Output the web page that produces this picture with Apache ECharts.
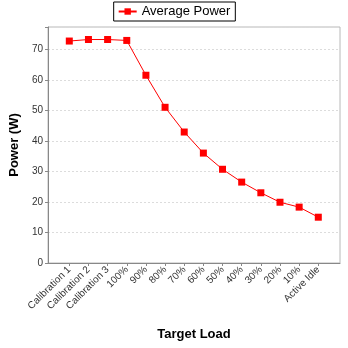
<!DOCTYPE html>
<html>
<head>
<meta charset="utf-8">
<script src="https://cdn.jsdelivr.net/npm/echarts@6/dist/echarts.min.js"></script>
<style>
  html, body { margin: 0; padding: 0; background: #fff; }
  #chart { width: 348px; height: 348px; }
</style>
</head>
<body>
<div id="chart"></div>
<script>
// Average power per target load level
const categories = ['Calibration 1', 'Calibration 2', 'Calibration 3', '100%', '90%', '80%', '70%',
  '60%', '50%', '40%', '30%', '20%', '10%', 'Active Idle'];
const averagePower = [72.7, 73.2, 73.2, 72.9, 61.5, 51.0, 42.9, 36.0, 30.7, 26.5, 23.0, 19.9, 18.3, 15.0];
const yTicks = [0, 10, 20, 30, 40, 50, 60, 70];

const FONT = 'Liberation Sans';
const Y_MAX = 77.3;

const chart = echarts.init(document.getElementById('chart'), null, { renderer: 'canvas' });

chart.setOption({
  backgroundColor: '#ffffff',
  animation: false,
  textStyle: { fontFamily: FONT },
  legend: {
    data: ['Average Power'],
    top: 2,
    left: 'center',
    borderColor: '#000',
    borderWidth: 1,
    padding: [3, 5, 3, 4],
    itemWidth: 18,
    itemHeight: 8,
    itemGap: 4,
    textStyle: { fontFamily: FONT, fontSize: 13, color: '#000' }
  },
  grid: [
    // outer plot frame
    { left: 48, right: 8, top: 27, bottom: 85, show: true, borderColor: '#b8b8b8', borderWidth: 1, containLabel: false },
    // data area, inset by category margins
    { left: 69.3, right: 29.7, top: 27, bottom: 85, containLabel: false }
  ],
  xAxis: [
    {
      gridIndex: 0, type: 'value', min: 0, max: 1,
      name: 'Target Load', nameLocation: 'middle', nameGap: 65,
      nameTextStyle: { fontFamily: FONT, fontSize: 13, fontWeight: 'bold', color: '#000' },
      axisLine: { show: true, lineStyle: { color: '#888', width: 1 } },
      axisTick: { show: false }, axisLabel: { show: false }, splitLine: { show: false }
    },
    {
      gridIndex: 1, type: 'category', data: categories, boundaryGap: false,
      axisLine: { show: false },
      axisTick: { show: true, length: 3, alignWithLabel: true, lineStyle: { color: '#888' } },
      axisLabel: { rotate: 45, fontSize: 10, color: '#333', margin: 5, interval: 0, fontFamily: FONT },
      splitLine: { show: false }
    }
  ],
  yAxis: [
    {
      gridIndex: 0, type: 'value', min: 0, max: Y_MAX, interval: 10,
      name: 'Power (W)', nameLocation: 'middle', nameGap: 23,
      nameTextStyle: { fontFamily: FONT, fontSize: 13, fontWeight: 'bold', color: '#000' },
      axisLine: { show: true, lineStyle: { color: '#888', width: 1 } },
      axisTick: { show: true, length: 3, lineStyle: { color: '#888' } },
      axisLabel: {
        fontSize: 10, color: '#333', margin: 5, fontFamily: FONT,
        formatter: v => (yTicks.indexOf(v) >= 0 ? String(v) : '')
      },
      splitLine: { show: true, lineStyle: { color: '#dcdcdc', type: [2, 2], width: 1 } }
    },
    { gridIndex: 1, type: 'value', min: 0, max: Y_MAX, show: false, splitLine: { show: false } }
  ],
  series: [
    {
      name: 'Average Power', type: 'line', xAxisIndex: 1, yAxisIndex: 1,
      data: averagePower,
      symbol: 'rect', symbolSize: 7, showAllSymbol: true,
      itemStyle: { color: '#ff0000' },
      lineStyle: { color: '#ff0000', width: 1 }
    }
  ]
});
</script>
</body>
</html>
